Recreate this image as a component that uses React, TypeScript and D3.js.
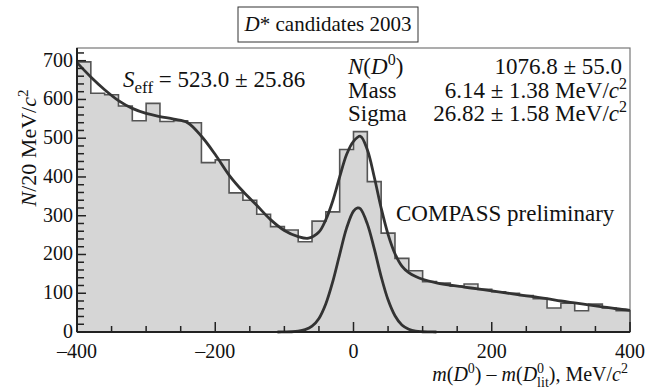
import React from 'react';
import * as d3 from 'd3';

// ---- data ----
const binStarts = [-400, -380, -360, -340, -320, -300, -280, -260, -240, -220, -200, -180, -160, -140, -120, -100, -80, -60, -40, -20, 0, 20, 40, 60, 80, 100, 120, 140, 160, 180, 200, 220, 240, 260, 280, 300, 320, 340, 360, 380];
const binWidth = 20;
const counts = [697, 616, 612, 583, 545, 590, 543, 545, 540, 437, 444, 359, 340, 304, 272, 263, 233, 286, 310, 471, 517, 388, 255, 190, 158, 130, 126, 118, 124, 110, 104, 100, 94, 86, 62, 74, 55, 72, 62, 55];

const fitX = [-400, -380, -360, -340, -320, -300, -280, -260, -240, -220, -200, -180, -160, -140, -120, -100, -80, -65, -50, -40, -30, -20, -10, 0, 10, 20, 30, 40, 50, 60, 70, 80, 90, 100, 120, 140, 160, 180, 200, 220, 240, 260, 280, 300, 320, 340, 360, 380, 400];
const fitY = [695, 658, 625, 597, 577, 564, 556, 549, 540, 505, 458, 405, 363, 327, 290, 262, 246, 242, 258, 290, 338, 400, 458, 492, 505, 470, 400, 320, 252, 202, 170, 153, 143, 136, 127, 121, 116, 111, 106, 101, 96, 91, 86, 80, 75, 70, 65, 60, 56];

const sigX = [-110, -100, -90, -80, -70, -60, -50, -40, -30, -20, -10, 0, 6, 10, 20, 30, 40, 50, 60, 70, 80, 90, 100, 110, 120];
const sigY = [0, 0.3, 0.6, 2, 6, 15, 35, 73, 130, 200, 268, 312, 320, 318, 279, 215, 143, 83, 42, 18, 7, 2, 0.6, 0.2, 0];

const yMajor = [0, 100, 200, 300, 400, 500, 600, 700];
const yMinor = [20, 40, 60, 80, 120, 140, 160, 180, 220, 240, 260, 280, 320, 340, 360, 380, 420, 440, 460, 480, 520, 540, 560, 580, 620, 640, 660, 680, 720];
const xMajor = [-400, -200, 0, 200, 400];
const xMinor = [-350, -300, -250, -150, -100, -50, 50, 100, 150, 250, 300, 350];

const FONT = '"Liberation Serif", "Times New Roman", Times, serif';

export default function App() {
  const W = 656, H = 392;
  const x = d3.scaleLinear().domain([-400, 400]).range([77, 630]);
  const y = d3.scaleLinear().domain([0, 700]).range([332, 60.7]);
  const yTop = 48;

  const pts: [number, number][] = [];
  binStarts.forEach((b, i) => {
    pts.push([x(b), y(counts[i])]);
    pts.push([x(b + binWidth), y(counts[i])]);
  });
  const stepLine = d3.line<[number, number]>().x(d => d[0]).y(d => d[1]);
  const areaPath = d3.area<[number, number]>().x(d => d[0]).y0(y(0)).y1(d => d[1])(pts) || '';
  const outline = stepLine([[x(-400), y(0)], ...pts, [x(400), y(0)]]) || '';
  const fitPath = d3.line<number>().x((_, i) => x(fitX[i])).y(d => y(d)).curve(d3.curveCatmullRom.alpha(0.5))(fitY) || '';
  const sigPath = d3.line<number>().x((_, i) => x(sigX[i])).y(d => y(d)).curve(d3.curveCatmullRom.alpha(0.5))(sigY) || '';

  return (
    <svg width={W} height={H} style={{ position: 'absolute', left: 0, top: 0, background: '#fff', fontFamily: FONT }}>
      {/* title box */}
      <rect x={238} y={7} width={180} height={35} fill="#fff" stroke="#333" strokeWidth={1} />
      <text x={328} y={31} fontSize={21} textAnchor="middle" fill="#111">
        <tspan fontStyle="italic">D</tspan>* candidates 2003
      </text>

      {/* frame */}
      <rect x={x(-400)} y={yTop} width={x(400) - x(-400)} height={y(0) - yTop} fill="none" stroke="#777" strokeWidth={1.2} />

      {/* histogram */}
      <path d={areaPath} fill="#d6d6d6" />
      <path d={outline} fill="none" stroke="#555" strokeWidth={1.6} />

      {/* fits */}
      <path d={fitPath} fill="none" stroke="#333" strokeWidth={2.8} />
      <path d={sigPath} fill="none" stroke="#333" strokeWidth={2.8} />

      {/* axes */}
      <line x1={x(-400)} x2={x(400)} y1={y(0)} y2={y(0)} stroke="#222" strokeWidth={2} />
      <line x1={x(-400)} x2={x(-400)} y1={yTop} y2={y(0)} stroke="#222" strokeWidth={2} />
      {yMajor.map(v => (
        <g key={'ym' + v}>
          <line x1={x(-400)} x2={x(-400) + 9} y1={y(v)} y2={y(v)} stroke="#222" strokeWidth={1.5} />
          <text x={x(-400) - 4} y={y(v) + 6} fontSize={20} textAnchor="end" fill="#111">{v}</text>
        </g>
      ))}
      {yMinor.map(v => (
        <line key={'yn' + v} x1={x(-400)} x2={x(-400) + 7} y1={y(v)} y2={y(v)} stroke="#222" strokeWidth={1.5} />
      ))}
      {xMajor.map(v => (
        <g key={'xm' + v}>
          <line x1={x(v)} x2={x(v)} y1={y(0)} y2={y(0) - 10} stroke="#222" strokeWidth={1.5} />
          <text x={x(v)} y={358} fontSize={20} textAnchor="middle" fill="#111">{v < 0 ? '\u2013' + Math.abs(v) : v}</text>
        </g>
      ))}
      {xMinor.map(v => (
        <line key={'xn' + v} x1={x(v)} x2={x(v)} y1={y(0)} y2={y(0) - 6} stroke="#222" strokeWidth={1.5} />
      ))}

      {/* axis titles */}
      <text transform="translate(36,148) rotate(-90)" fontSize={22} textAnchor="middle" fill="#111">
        <tspan fontStyle="italic">N</tspan>/20 MeV/<tspan fontStyle="italic">c</tspan>
        <tspan fontSize={15} dy={-8}>2</tspan>
      </text>
      <text x={628} y={381} fontSize={20} textAnchor="end" fill="#111">
        <tspan fontStyle="italic">m</tspan>(<tspan fontStyle="italic">D</tspan>
        <tspan fontSize={14} dy={-8}>0</tspan>
        <tspan dy={8}>) – </tspan><tspan fontStyle="italic">m</tspan>(<tspan fontStyle="italic">D</tspan>
        <tspan fontSize={14} dy={-8}>0</tspan>
        <tspan fontSize={14} dx={-7} dy={14}>lit</tspan>
        <tspan dy={-6}>), MeV/</tspan><tspan fontStyle="italic">c</tspan>
        <tspan fontSize={14} dy={-8}>2</tspan>
      </text>

      {/* annotations */}
      <text x={123} y={87} fontSize={23} fill="#111">
        <tspan fontStyle="italic">S</tspan>
        <tspan fontSize={17} dy={6}>eff</tspan>
        <tspan dy={-6}> = 523.0 ± 25.86</tspan>
      </text>
      <text x={348} y={74} fontSize={23} fill="#111">
        <tspan fontStyle="italic">N</tspan>(<tspan fontStyle="italic">D</tspan>
        <tspan fontSize={16} dy={-9}>0</tspan>
        <tspan dy={9}>)</tspan>
      </text>
      <text x={622} y={74} fontSize={23} textAnchor="end" fill="#111">1076.8 ± 55.0</text>
      <text x={348} y={98} fontSize={23} fill="#111">Mass</text>
      <text x={627} y={98} fontSize={23} textAnchor="end" fill="#111">
        6.14 ± 1.38 MeV/<tspan fontStyle="italic">c</tspan>
        <tspan fontSize={16} dy={-9}>2</tspan>
      </text>
      <text x={348} y={121} fontSize={23} fill="#111">Sigma</text>
      <text x={627} y={121} fontSize={23} textAnchor="end" fill="#111">
        26.82 ± 1.58 MeV/<tspan fontStyle="italic">c</tspan>
        <tspan fontSize={16} dy={-9}>2</tspan>
      </text>
      <text x={396} y={221} fontSize={23} fill="#111">COMPASS preliminary</text>
    </svg>
  );
}
